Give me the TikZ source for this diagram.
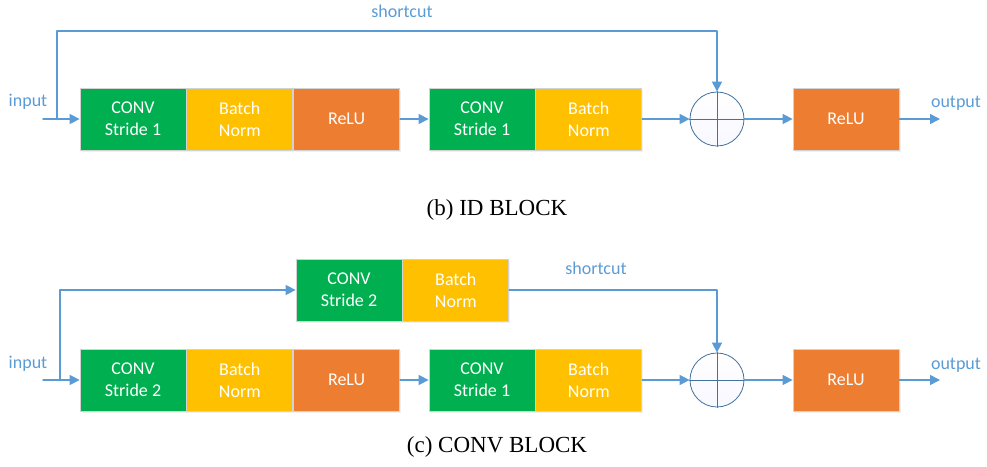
\documentclass[tikz,border=0pt]{standalone}
\usepackage{fontspec}
\setmainfont{Carlito}
\newfontfamily\capfont{Liberation Serif}
\usetikzlibrary{arrows.meta, positioning, shadows}

\definecolor{convgreen}{HTML}{00B050}
\definecolor{bnyellow}{HTML}{FFC000}
\definecolor{reluorange}{HTML}{ED7D31}
\definecolor{linkblue}{HTML}{5B9BD5}
\definecolor{sumblue}{HTML}{41719C}

\tikzset{
    blockbox/.style={draw=gray!35, line width=0.8pt, minimum width=106pt, minimum height=62pt,
        inner sep=0pt, text=white, align=center, font=\fontsize{18}{22}\selectfont,
        drop shadow={opacity=0.12, shadow xshift=1.5pt, shadow yshift=-2pt}},
    convbox/.style={blockbox, fill=convgreen},
    bnbox/.style={blockbox, fill=bnyellow},
    relubox/.style={blockbox, fill=reluorange},
    addcirc/.style={circle, draw=sumblue, line width=0.8pt, minimum size=54pt, inner sep=0pt,
        top color=white, bottom color=blue!3},
    flow/.style={linkblue, line width=1.5pt, -{Triangle[length=10pt,width=10pt]}},
    lbl/.style={text=linkblue, font=\fontsize{18}{22}\selectfont},
    caption/.style={font=\capfont\fontsize{23}{27}\selectfont}
}

\begin{document}
\begin{tikzpicture}[x=1pt, y=-1pt, line cap=round, line join=round]
    \useasboundingbox (0,0) rectangle (987,466);

    % ID block
    \draw (133,119) node[convbox] (ca1) {CONV\\Stride 1};
    \node[bnbox, right=0pt of ca1] (ba1) {Batch\\Norm};
    \node[relubox, right=0pt of ba1] (ra1) {ReLU};
    \draw (482,119) node[convbox] (ca2) {CONV\\Stride 1};
    \node[bnbox, right=0pt of ca2] (ba2) {Batch\\Norm};
    \draw (717,119) node[addcirc] (sa) {};
    \draw[sumblue, line width=0.8pt] (sa.north) -- (sa.south) (sa.west) -- (sa.east);
    \draw (846,119) node[relubox] (ra2) {ReLU};
    \coordinate (ina) at (43,119);
    \coordinate (forka) at (57,119);
    \coordinate (outa) at (940,119);

    \node[lbl] (inlbla) at (28,102) {input};
    \node[lbl] (outlbla) at (956,103) {output};
    \node[lbl] (shortlbla) at (402,11) {shortcut};

    % Edges
    \foreach \source/\target in {ina/ca1, ra1/ca2, ba2/sa, sa/ra2, ra2/outa} {
            \draw[flow] (\source) -- (\target);
        }
    \draw[flow] (forka) -- ++(0,-88) -| (sa.north);

    \node[caption] (capa) at (497,210) {(b) ID BLOCK};

    % CONV block
    \draw (349,290) node[convbox] (cs) {CONV\\Stride 2};
    \node[bnbox, right=0pt of cs] (bs) {Batch\\Norm};
    \draw (133,380) node[convbox] (cb1) {CONV\\Stride 2};
    \node[bnbox, right=0pt of cb1] (bb1) {Batch\\Norm};
    \node[relubox, right=0pt of bb1] (rb1) {ReLU};
    \draw (482,380) node[convbox] (cb2) {CONV\\Stride 1};
    \node[bnbox, right=0pt of cb2] (bb2) {Batch\\Norm};
    \draw (717,380) node[addcirc] (sb) {};
    \draw[sumblue, line width=0.8pt] (sb.north) -- (sb.south) (sb.west) -- (sb.east);
    \draw (846,380) node[relubox] (rb2) {ReLU};
    \coordinate (inb) at (43,380);
    \coordinate (forkb) at (60,380);
    \coordinate (outb) at (940,380);

    \node[lbl] (inlblb) at (28,364) {input};
    \node[lbl] (outlblb) at (956,365) {output};
    \node[lbl] (shortlblb) at (596,268) {shortcut};

    % Edges
    \foreach \source/\target in {inb/cb1, rb1/cb2, bb2/sb, sb/rb2, rb2/outb} {
            \draw[flow] (\source) -- (\target);
        }
    \draw[flow] (forkb) |- (cs.west);
    \draw[flow] (bs.east) -| (sb.north);

    \node[caption] (capb) at (497,447) {(c) CONV BLOCK};
\end{tikzpicture}
\end{document}
